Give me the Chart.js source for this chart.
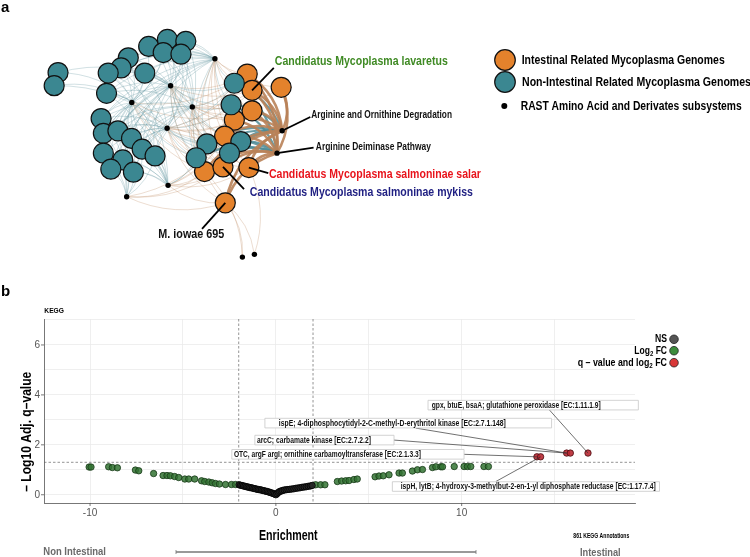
<!DOCTYPE html>
<html><head><meta charset="utf-8">
<script src="https://cdn.jsdelivr.net/npm/chart.js@4"></script>
<style>
html,body{margin:0;padding:0;background:#fff;width:750px;height:557px;overflow:hidden}
#wa{position:absolute;left:0;top:0;width:750px;height:280px}
#wb{position:absolute;left:0;top:280px;width:750px;height:277px}
</style></head><body>
<div id="wa"><canvas id="ca"></canvas></div>
<div id="wb"><canvas id="cb"></canvas></div>
<script>
// ---------- Panel a: network (layout coordinates) ----------
const tealNodes = [[48.3,66.7],[44.3,81],[141.7,38.3],[161,30.7],[180,32.7],[156.7,45],[175,46.7],[120.7,50.7],[113.3,61.7],[100,67.3],[137.7,67.3],[98.3,89.3],[92.7,116.7],[95,132.7],[110,130],[124,138.3],[95,154.3],[115,161.7],[102.7,171.7],[126,175],[135,150],[148.3,157.3],[230,78.3],[226.7,101.7],[201.7,144.3],[190.7,159.3],[236.7,141.7],[225,154.3]];
const orangeNodes = [[243.3,68.3],[248.3,86],[278.3,82.7],[248.3,108.3],[230,118.3],[220,135.7],[199.3,174.3],[218.3,169.3],[245,170],[220.7,208.3]];
const subsystems = [[210,51.7],[164.3,81],[124.3,99.3],[186.7,104],[160.7,127.3],[279.3,130],[274,154.3],[161.7,189.3],[119,201.7],[238.3,267.3],[250.7,264.3]];
const subsystemNames = ["","","","","","Arginine and Ornithine Degradation","Arginine Deiminase Pathway","","","",""];
const linksTeal = [
 [2,3,4,5,6,7,8,9,10,11,12,13,14,16,18,20,22,23,24,25],
 [0,2,3,4,5,6,7,8,9,10,11,12,13,14,15,16,17,18,19,20,21,22,23,24,25,26,27],
 [0,1,2,3,5,7,8,9,10,11,12,13,14,15,16,17,18,19,20,21,24,25],
 [2,3,4,5,6,8,10,11,12,13,14,15,17,19,20,21,22,23,24,25,26,27],
 [1,3,4,6,7,9,11,12,13,14,15,16,17,18,19,20,21,22,23,24,25,26,27],
 [22,23,24,25,26,27],
 [22,23,24,25,26,27],
 [8,9,11,12,13,14,15,16,17,18,19,20,21,24,25],
 [12,13,14,16,17,18,19,20,21],
 [],
 []
];
const linksOrange = [
 [0,1,2,3,4,5,6,7,8],
 [0,1,3,4,5,6,7,8],
 [0,3,5,6,7],
 [0,1,2,3,4,5,6,7,8,9],
 [0,1,3,4,5,6,7,8,9],
 [0,1,2,3,4,5,6,7,8,9],
 [0,1,2,3,4,5,6,7,8,9],
 [4,5,6,7,8,9],
 [5,6,7,9],
 [9,6],
 [9,8]
];
const legendA = ["Intestinal Related Mycoplasma Genomes","Non-Intestinal Related Mycoplasma Genomes","RAST Amino Acid and Derivates subsystems"];

// ---------- Panel b: volcano ----------
const nsX = [-1.98,-1.9,-1.82,-1.74,-1.66,-1.58,-1.5,-1.42,-1.34,-1.26,-1.18,-1.1,-1.02,-0.94,-0.86,-0.78,-0.7,-0.62,-0.54,-0.46,-0.38,-0.3,-0.22,-0.14,-0.07,0,0.06,0.13,0.2,0.28,0.36,0.45,0.55,0.65,0.75,0.86,0.97,1.08,1.19,1.3,1.41,1.52,1.63,1.74,1.85,1.95];
const nsY = [0.40,0.38,0.37,0.35,0.34,0.32,0.31,0.29,0.28,0.27,0.25,0.24,0.22,0.21,0.2,0.19,0.17,0.16,0.14,0.13,0.11,0.09,0.07,0.05,0.03,0,0.04,0.09,0.13,0.15,0.17,0.19,0.2,0.21,0.22,0.23,0.24,0.26,0.27,0.28,0.3,0.31,0.32,0.34,0.35,0.37];
const fcX = [-10.05,-9.95,-9.0,-8.8,-8.53,-7.56,-7.38,-6.58,-6.07,-5.86,-5.68,-5.45,-5.23,-4.9,-4.69,-4.37,-4.0,-3.83,-3.61,-3.43,-3.25,-3.04,-2.71,-2.39,-2.17,2.14,2.41,2.64,3.31,3.54,3.76,3.94,4.2,4.38,5.34,5.55,5.78,6.09,6.63,6.81,7.35,7.62,7.89,8.43,8.61,8.88,8.97,9.6,10.13,10.31,10.49,11.2,11.44];
const fcY = [1.11,1.11,1.12,1.09,1.08,0.99,0.96,0.85,0.77,0.77,0.76,0.73,0.69,0.63,0.63,0.63,0.56,0.53,0.51,0.48,0.45,0.43,0.41,0.41,0.41,0.4,0.4,0.4,0.53,0.55,0.56,0.57,0.61,0.63,0.72,0.75,0.76,0.8,0.87,0.87,0.95,1.0,1.01,1.09,1.12,1.12,1.12,1.13,1.13,1.13,1.13,1.13,1.13];
const sigX = [14.05,14.25,15.65,15.85,16.8];
const sigY = [1.52,1.52,1.67,1.67,1.67];
const xTickValues = [-10,-5,0,5,10,15];
const xTickLabels = ["-10","","0","","10",""];
const yTickValues = [0,1,2,3,4,5,6,7];
const yTickLabels = ["0","","2","","4","","6",""];
const fcCut = [-2,2];
const qCut = 1.3;
const labelText = ["gpx, btuE, bsaA; glutathione peroxidase [EC:1.11.1.9]","ispE; 4-diphosphocytidyl-2-C-methyl-D-erythritol kinase [EC:2.7.1.148]","arcC; carbamate kinase [EC:2.7.2.2]","OTC, argF argI; ornithine carbamoyltransferase [EC:2.1.3.3]","ispH, lytB; 4-hydroxy-3-methylbut-2-en-1-yl diphosphate reductase [EC:1.17.7.4]"];
const labelTarget = [4,2,2,0,1]; // index into sig points

const FONT = "'Liberation Sans Narrow','Liberation Sans',Arial,sans-serif";
const TEAL = '#3b8791', ORANGE = '#e4822c';

function drawRich(ctx, segs, x, y, o) {
  const size=o.size||12, weight=o.weight||'bold', fam=o.family||FONT;
  let total=0; const ws=[];
  segs.forEach(s=>{ const fs = s.sub? size*0.7: size; ctx.font=`${weight} ${fs}px ${fam}`; const w=ctx.measureText(s.t).width; ws.push(w); total+=w; });
  const sx = o.width? o.width/total : 1;
  const align=o.align||'left';
  const start = align==='left'? x : align==='right'? x-total*sx : x-total*sx/2;
  ctx.save(); ctx.translate(start,y); ctx.scale(sx,1); ctx.fillStyle=o.color||'#000'; ctx.textBaseline='middle'; ctx.textAlign='left';
  let cx=0;
  segs.forEach((s,i)=>{ const fs = s.sub? size*0.7: size; ctx.font=`${weight} ${fs}px ${fam}`; ctx.fillText(s.t, cx, s.sub? size*0.3:0); cx+=ws[i]; });
  ctx.restore();
}
function curve(ctx,a,b,k){ const dx=b[0]-a[0], dy=b[1]-a[1]; const cx=(a[0]+b[0])/2 + k*dy, cy=(a[1]+b[1])/2 - k*dx; ctx.beginPath(); ctx.moveTo(a[0],a[1]); ctx.quadraticCurveTo(cx,cy,b[0],b[1]); ctx.stroke(); }

const netPlugin = {
  id:'net',
  beforeDatasetsDraw(chart){
    const ctx=chart.ctx, xs=chart.scales.x, ys=chart.scales.y;
    const P=p=>[xs.getPixelForValue(p[0]), ys.getPixelForValue(p[1])];
    ctx.save(); ctx.lineCap='round';
    subsystems.forEach((s,si)=>{
      if (si===5||si===6) return;
      ctx.lineWidth=0.55; ctx.strokeStyle='rgba(100,150,160,0.55)';
      linksTeal[si].forEach(t=>curve(ctx,P(tealNodes[t]),P(s),0.2));
      ctx.strokeStyle='rgba(190,140,100,0.55)';
      linksOrange[si].forEach(t=>curve(ctx,P(orangeNodes[t]),P(s),0.2));
    });
    [5,6].forEach(si=>{
      const s=subsystems[si];
      ctx.lineWidth=2.2; ctx.strokeStyle='rgba(80,140,150,0.85)';
      linksTeal[si].forEach(t=>curve(ctx,P(tealNodes[t]),P(s),0.22));
    });
    [5,6].forEach(si=>{
      const s=subsystems[si];
      ctx.lineWidth=2.6; ctx.strokeStyle='rgba(185,130,88,0.9)';
      linksOrange[si].forEach(t=>curve(ctx,P(orangeNodes[t]),P(s),0.25));
    });
    ctx.restore();
  },
  afterDatasetsDraw(chart){
    const ctx=chart.ctx, xs=chart.scales.x, ys=chart.scales.y;
    const P=p=>[xs.getPixelForValue(p[0]), ys.getPixelForValue(p[1])];
    const ann=[
      {t:"Candidatus Mycoplasma lavaretus", c:'#3f8a24', x:271.7, y:55, w:173, s:13, from:orangeNodes[1], to:[270.7,61.7]},
      {t:subsystemNames[5], c:'#111', x:309.3, y:113, w:140.7, s:10, from:subsystems[5], to:[308.3,115]},
      {t:subsystemNames[6], c:'#111', x:314, y:148, w:115, s:10, from:subsystems[6], to:[311.7,148.3]},
      {t:"Candidatus Mycoplasma salmoninae salar", c:'#e8141c', x:265.7, y:177, w:212, s:13, from:orangeNodes[8], to:[265,176]},
      {t:"Candidatus Mycoplasma salmoninae mykiss", c:'#1f1f82', x:246, y:197.5, w:223, s:13, from:orangeNodes[7], to:[240,193.3]},
      {t:"M. iowae 695", c:'#111', x:151.7, y:243, w:66, s:13, from:orangeNodes[9], to:[196.7,236.7]},
    ];
    ctx.save(); ctx.strokeStyle='#000'; ctx.lineWidth=1.8;
    ann.forEach(a=>{ const f=P(a.from), t=P(a.to); ctx.beginPath(); ctx.moveTo(f[0],f[1]); ctx.lineTo(t[0],t[1]); ctx.stroke(); });
    ctx.restore();
    ann.forEach(a=>drawRich(ctx,[{t:a.t}],xs.getPixelForValue(a.x),ys.getPixelForValue(a.y),{size:a.s,color:a.c,width:a.w}));
    ctx.save(); ctx.lineWidth=1.2; ctx.strokeStyle='#111';
    ctx.fillStyle=ORANGE; ctx.beginPath(); ctx.arc(505,60,10.3,0,Math.PI*2); ctx.fill(); ctx.stroke();
    ctx.fillStyle=TEAL; ctx.beginPath(); ctx.arc(505,82,10.3,0,Math.PI*2); ctx.fill(); ctx.stroke();
    ctx.fillStyle='#000'; ctx.beginPath(); ctx.arc(504.3,106,3,0,Math.PI*2); ctx.fill();
    ctx.restore();
    drawRich(ctx,[{t:legendA[0]}],521.7,60,{size:13,width:203});
    drawRich(ctx,[{t:legendA[1]}],522,82,{size:13,width:229});
    drawRich(ctx,[{t:legendA[2]}],520.7,106,{size:13,width:221});
    drawRich(ctx,[{t:'a'}],1,8,{size:15,family:'Liberation Sans,Arial,sans-serif'});
  }
};

new Chart(document.getElementById('ca'),{
  type:'scatter',
  data:{datasets:[
    {data:tealNodes.map(p=>({x:p[0],y:p[1]})), pointRadius:10, backgroundColor:TEAL, borderColor:'#111', borderWidth:1.2},
    {data:orangeNodes.map(p=>({x:p[0],y:p[1]})), pointRadius:10, backgroundColor:ORANGE, borderColor:'#111', borderWidth:1.2},
    {data:subsystems.map(p=>({x:p[0],y:p[1]})), pointRadius:2.7, backgroundColor:'#000', borderColor:'#000', borderWidth:0}
  ]},
  options:{responsive:true, maintainAspectRatio:false, animation:false, layout:{padding:0},
    scales:{x:{type:'linear',min:0,max:750,display:false}, y:{type:'linear',min:0,max:280,reverse:true,display:false}},
    plugins:{legend:{display:false},tooltip:{enabled:false}}, events:[]},
  plugins:[netPlugin]
});

// ---------- volcano chart ----------
const volPlugin = {
  id:'vol',
  beforeDatasetsDraw(chart){
    const ctx=chart.ctx, xs=chart.scales.x, ys=chart.scales.y, ca=chart.chartArea;
    ctx.save(); ctx.strokeStyle='#666'; ctx.lineWidth=0.7; ctx.setLineDash([2.5,2]);
    fcCut.forEach(v=>{ const px=xs.getPixelForValue(v); ctx.beginPath(); ctx.moveTo(px,ca.top); ctx.lineTo(px,ca.bottom); ctx.stroke(); });
    const py=ys.getPixelForValue(qCut); ctx.beginPath(); ctx.moveTo(ca.left,py); ctx.lineTo(ca.right,py); ctx.stroke();
    ctx.restore();
  },
  afterDatasetsDraw(chart){
    const ctx=chart.ctx, xs=chart.scales.x, ys=chart.scales.y, ca=chart.chartArea;
    ctx.save(); ctx.strokeStyle='#555'; ctx.lineWidth=0.8;
    xTickValues.forEach((v,i)=>{ if(!xTickLabels[i]) return; const px=xs.getPixelForValue(v); ctx.beginPath(); ctx.moveTo(px,ca.bottom); ctx.lineTo(px,ca.bottom+3); ctx.stroke(); });
    yTickValues.forEach((v,i)=>{ if(!yTickLabels[i]) return; const py=ys.getPixelForValue(v); ctx.beginPath(); ctx.moveTo(ca.left-3,py); ctx.lineTo(ca.left,py); ctx.stroke(); });
    ctx.restore();
    const boxes=[
      {x1:8.19,x2:19.51,y:3.59,tx:8.39,tw:169,lx:14.72,ly:3.4},
      {x1:-0.59,x2:14.84,y:2.87,tx:0.16,tw:227,lx:7.53,ly:2.67},
      {x1:-1.13,x2:6.36,y:2.19,tx:-1.02,tw:114,lx:6.36,ly:2.19},
      {x1:-2.37,x2:10.13,y:1.62,tx:-2.26,tw:187,lx:10.13,ly:1.62},
      {x1:6.27,x2:20.65,y:0.33,tx:6.72,tw:255,lx:11.84,ly:0.53}
    ];
    ctx.save(); ctx.strokeStyle='#333'; ctx.lineWidth=0.7;
    boxes.forEach((b,i)=>{ const k=labelTarget[i]; ctx.beginPath(); ctx.moveTo(xs.getPixelForValue(b.lx),ys.getPixelForValue(b.ly)); ctx.lineTo(xs.getPixelForValue(sigX[k]),ys.getPixelForValue(sigY[k])); ctx.stroke(); });
    ctx.restore();
    boxes.forEach((b,i)=>{
      const x1=xs.getPixelForValue(b.x1), x2=xs.getPixelForValue(b.x2), yc=ys.getPixelForValue(b.y);
      ctx.save(); ctx.fillStyle='#fff'; ctx.strokeStyle='#c8c8c8'; ctx.lineWidth=0.8;
      ctx.beginPath(); ctx.rect(x1,yc-4.8,x2-x1,9.6); ctx.fill(); ctx.stroke(); ctx.restore();
      drawRich(ctx,[{t:labelText[i]}],xs.getPixelForValue(b.tx),yc+0.3,{size:8.5,width:b.tw,color:'#111'});
    });
    const lg=[{segs:[{t:'NS'}],c:'#555',y:59.3,w:12},{segs:[{t:'Log'},{t:'2',sub:true},{t:' FC'}],c:'#3c8c3c',y:70.7,w:32.7},{segs:[{t:'q – value and log'},{t:'2',sub:true},{t:' FC'}],c:'#d83838',y:82.7,w:89.3}];
    lg.forEach(l=>{
      drawRich(ctx,l.segs,667,l.y,{size:11.5,width:l.w,align:'right'});
      ctx.save(); ctx.fillStyle=l.c; ctx.strokeStyle='#222'; ctx.lineWidth=0.8; ctx.beginPath(); ctx.arc(674,l.y,4.3,0,Math.PI*2); ctx.fill(); ctx.stroke(); ctx.restore();
    });
    drawRich(ctx,[{t:'KEGG'}],44.3,31,{size:8,width:19.7});
    drawRich(ctx,[{t:'Enrichment'}],288.3,256,{size:15,width:58.7,align:'center'});
    drawRich(ctx,[{t:'861 KEGG Annotations'}],573.3,256.7,{size:6.5,width:56});
    drawRich(ctx,[{t:'Non Intestinal'}],43.3,272,{size:11,width:62.7,color:'#6a6a6a'});
    drawRich(ctx,[{t:'Intestinal'}],580,273,{size:11,width:40.7,color:'#6a6a6a'});
    ctx.save(); ctx.translate(26.7,151.7); ctx.rotate(-Math.PI/2);
    drawRich(ctx,[{t:'– Log10 Adj. q–value'}],0,0,{size:14.5,width:120,align:'center'});
    ctx.restore();
    ctx.save(); ctx.strokeStyle='#777'; ctx.lineWidth=1.6; ctx.beginPath(); ctx.moveTo(176,272); ctx.lineTo(476,272); ctx.stroke();
    ctx.lineWidth=0.8; ctx.beginPath(); ctx.moveTo(176,270); ctx.lineTo(176,274); ctx.moveTo(476,270); ctx.lineTo(476,274); ctx.stroke(); ctx.restore();
    drawRich(ctx,[{t:'b'}],1,12,{size:15,family:'Liberation Sans,Arial,sans-serif'});
  }
};

new Chart(document.getElementById('cb'),{
  type:'scatter',
  data:{datasets:[
    {label:'NS', data:nsX.map((x,i)=>({x,y:nsY[i]})), pointRadius:3.2, backgroundColor:'rgba(40,40,40,0.85)', borderColor:'#000', borderWidth:0.8},
    {label:'Log2 FC', data:fcX.map((x,i)=>({x,y:fcY[i]})), pointRadius:3.2, backgroundColor:'rgba(50,115,50,0.85)', borderColor:'#163816', borderWidth:0.8},
    {label:'q-value and log2 FC', data:sigX.map((x,i)=>({x,y:sigY[i]})), pointRadius:3.2, backgroundColor:'rgba(185,40,50,0.9)', borderColor:'#4a0c10', borderWidth:0.8}
  ]},
  options:{responsive:true, maintainAspectRatio:false, animation:false,
    layout:{padding:{left:0,right:115,top:39,bottom:0}},
    scales:{
      x:{type:'linear',min:-12.48,max:19.33,
        afterBuildTicks:s=>{s.ticks=xTickValues.map(v=>({value:v}));},
        afterFit:s=>{s.height=54;},
        grid:{color:'#ebebeb',lineWidth:0.8,drawTicks:false},
        border:{display:true,color:'#777',width:1},
        ticks:{padding:4,color:'#555',font:{family:'Liberation Sans,Arial,sans-serif',size:10},maxRotation:0,autoSkip:false,
          callback:(v)=>{const i=xTickValues.indexOf(v); return i>=0?xTickLabels[i]:'';}}},
      y:{type:'linear',min:-0.33,max:7.04,
        afterBuildTicks:s=>{s.ticks=yTickValues.map(v=>({value:v}));},
        afterFit:s=>{s.width=44;},
        grid:{color:'#ebebeb',lineWidth:0.8,drawTicks:false},
        border:{display:true,color:'#777',width:1},
        ticks:{padding:4,color:'#555',font:{family:'Liberation Sans,Arial,sans-serif',size:10},autoSkip:false,
          callback:(v)=>{const i=yTickValues.indexOf(v); return i>=0?yTickLabels[i]:'';}}}
    },
    plugins:{legend:{display:false},tooltip:{enabled:false}}, events:[]},
  plugins:[volPlugin]
});
</script>
</body></html>
